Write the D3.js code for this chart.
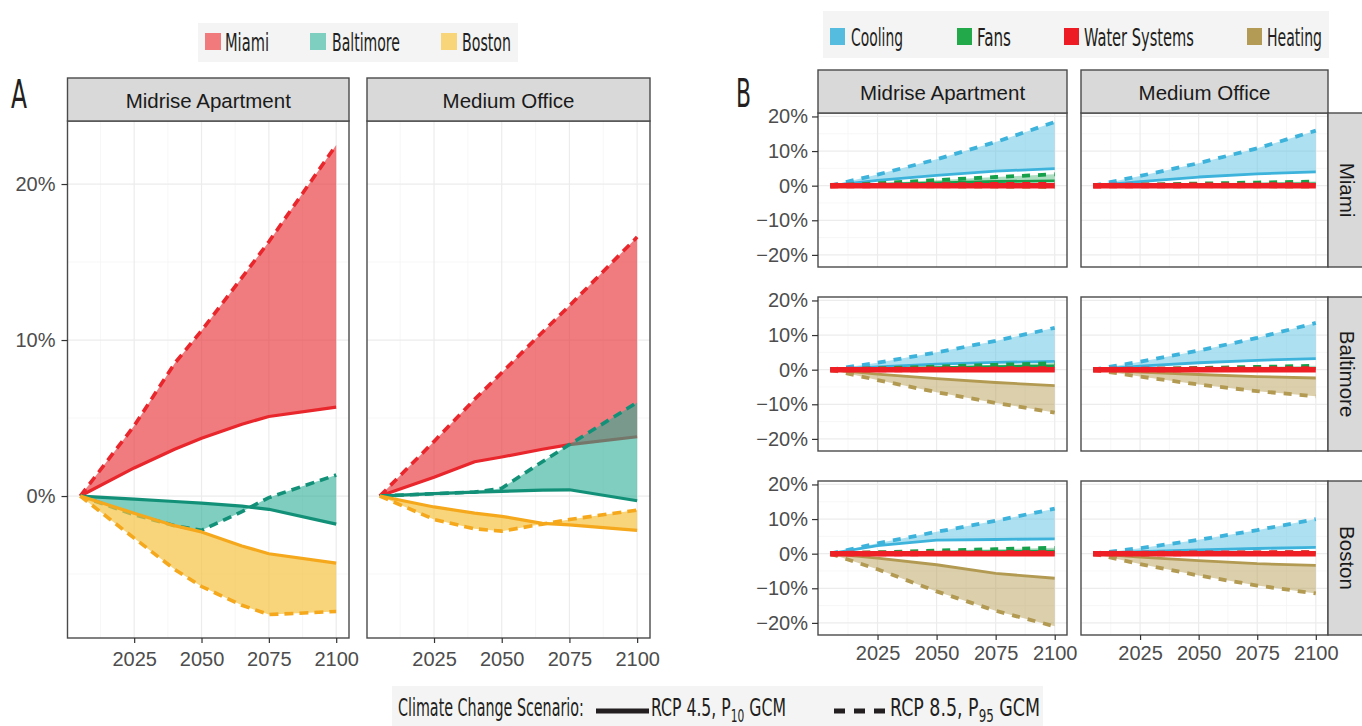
<!DOCTYPE html>
<html>
<head>
<meta charset="utf-8">
<script src="https://cdn.jsdelivr.net/npm/d3@7"></script>
<style>
  body { margin: 0; background: #fff; }
  svg { display: block; }
</style>
</head>
<body>
<svg id="chart" width="1362" height="726"></svg>
<script>
// ---------------- data ----------------
// Panel A: change in total energy use by city, per building type
const buildings = ["Midrise Apartment", "Medium Office"];
const citiesA = ["Miami", "Baltimore", "Boston"];
const yearsA = [2005, 2025, 2040, 2050, 2065, 2075, 2100];
// each array: [Midrise Apartment values, Medium Office values], in % change
const miamiRcp45 = [
  [0, 1.8, 3.0, 3.7, 4.6, 5.1, 5.7],
  [0, 1.2, 2.2, 2.5, 3.0, 3.3, 3.8]
];
const miamiRcp85 = [
  [0, 4.5, 8.5, 10.6, 14.0, 16.3, 22.5],
  [0, 3.5, 6.2, 7.9, 10.5, 12.2, 16.6]
];
const baltimoreRcp45 = [
  [0, -0.2, -0.35, -0.45, -0.65, -0.85, -1.8],
  [0, 0.15, 0.25, 0.3, 0.38, 0.4, -0.3]
];
const baltimoreRcp85 = [
  [0, -1.2, -1.9, -2.2, -1.0, -0.1, 1.35],
  [0, 0.15, 0.25, 0.5, 2.2, 3.3, 6.0]
];
const bostonRcp45 = [
  [0, -1.1, -1.9, -2.3, -3.2, -3.7, -4.3],
  [0, -0.7, -1.1, -1.3, -1.75, -1.85, -2.2]
];
const bostonRcp85 = [
  [0, -2.7, -4.7, -5.8, -7.0, -7.6, -7.4],
  [0, -1.5, -2.1, -2.25, -1.8, -1.5, -0.9]
];
const yearTicks = [2025, 2050, 2075, 2100];
const pctTicksA = [0, 10, 20];

// Panel B: change by end use; rows are
// Miami apt, Miami office, Baltimore apt, Baltimore office, Boston apt, Boston office
const cityRows = ["Miami", "Baltimore", "Boston"];
const endUses = ["Cooling", "Fans", "Water Systems", "Heating"];
const yearsB = [2005, 2025, 2050, 2075, 2100];
const cooling45 = [
  [0, 1.5, 3.0, 4.2, 4.9],
  [0, 1.2, 2.5, 3.4, 4.0],
  [0, 0.8, 1.6, 2.1, 2.4],
  [0, 1.0, 2.0, 2.7, 3.2],
  [0, 2.3, 3.9, 4.1, 4.3],
  [0, 0.6, 1.1, 1.5, 1.8]
];
const cooling85 = [
  [0, 3.2, 7.6, 12.6, 18.4],
  [0, 2.8, 6.5, 10.8, 15.9],
  [0, 2.0, 5.0, 8.3, 12.1],
  [0, 2.3, 5.5, 9.2, 13.5],
  [0, 3.0, 6.3, 9.5, 13.0],
  [0, 1.6, 4.0, 6.8, 10.0]
];
const fans45 = [
  [0, 0.4, 0.8, 1.2, 1.4],
  [0, 0.1, 0.25, 0.4, 0.5],
  [0, 0.3, 0.6, 0.9, 1.1],
  [0, 0.1, 0.2, 0.3, 0.4],
  [0, 0.2, 0.4, 0.6, 0.7],
  [0, 0.05, 0.1, 0.15, 0.2]
];
const fans85 = [
  [0, 0.7, 1.6, 2.5, 3.3],
  [0, 0.3, 0.6, 0.9, 1.2],
  [0, 0.4, 0.9, 1.4, 1.9],
  [0, 0.2, 0.5, 0.8, 1.1],
  [0, 0.4, 0.9, 1.3, 1.7],
  [0, 0.1, 0.2, 0.3, 0.4]
];
const water45 = [
  [0, 0, 0, 0, 0],
  [0, 0, 0, 0, 0],
  [0, 0, 0, 0, 0],
  [0, 0, 0, 0, 0],
  [0, 0, 0, 0, 0],
  [0, 0, 0, 0, 0]
];
const water85 = [
  [0, 0.1, 0.2, 0.25, 0.3],
  [0, 0.05, 0.1, 0.15, 0.2],
  [0, 0.05, 0.1, 0.15, 0.2],
  [0, 0.05, 0.1, 0.15, 0.2],
  [0, 0.05, 0.1, 0.15, 0.2],
  [0, 0.05, 0.1, 0.15, 0.2]
];
const heating45 = [
  [0, -0.05, -0.1, -0.15, -0.2],
  [0, -0.05, -0.1, -0.1, -0.15],
  [0, -1.3, -2.6, -3.7, -4.6],
  [0, -0.7, -1.4, -2.0, -2.4],
  [0, -1.3, -3.2, -5.7, -7.1],
  [0, -1.0, -2.0, -2.9, -3.4]
];
const heating85 = [
  [0, -0.1, -0.2, -0.3, -0.4],
  [0, -0.1, -0.15, -0.2, -0.3],
  [0, -3.0, -6.5, -9.6, -12.4],
  [0, -2.0, -4.3, -6.2, -7.7],
  [0, -4.5, -10.9, -16.5, -21.0],
  [0, -3.0, -6.3, -9.2, -11.5]
];
const pctTicksB = [-20, -10, 0, 10, 20];

// ---------------- styling ----------------
const sansFont = "'Liberation Sans', Arial, Helvetica, sans-serif";
const narrowFont = "'Liberation Sans Narrow', 'DejaVu Sans Condensed', 'Liberation Sans', sans-serif";
const cityStyle = {
  Miami:     { line: "#e8262b", fill: "#e8363b", fillOpacity: 0.65, swatch: "#f17b7c" },
  Baltimore: { line: "#139178", fill: "#2aae96", fillOpacity: 0.6,  swatch: "#7fcfc0" },
  Boston:    { line: "#f5a81c", fill: "#f5c242", fillOpacity: 0.7,  swatch: "#f9d57a" }
};
const useStyle = {
  "Cooling":       { line: "#3db3dc", fill: "#5cc3e4", fillOpacity: 0.5,  swatch: "#56bcdf" },
  "Fans":          { line: "#17a04c", fill: "#17a04c", fillOpacity: 0.35, swatch: "#22aa4a" },
  "Water Systems": { line: "#ee2025", fill: "#ee2025", fillOpacity: 0.4,  swatch: "#ed1c24" },
  "Heating":       { line: "#b39a52", fill: "#b39a52", fillOpacity: 0.48, swatch: "#b39b56" }
};
const pctFmt = v => (v < 0 ? "\u2212" + Math.abs(v) : v) + "%";

const svg = d3.select("#chart");

// text squeezed horizontally to a given width (condensed labels)
function fitText(parent, build, x, y, width, size) {
  const g = parent.append("g");
  const t = g.append("text")
    .style("font-family", narrowFont)
    .style("font-size", size + "px")
    .attr("fill", "#231f20");
  build(t);
  const w = t.node().getBBox().width;
  g.attr("transform", `translate(${x},${y}) scale(${width / w},1)`);
  return g;
}
const plain = str => t => t.text(str);

function drawGrid(g, x, y, xMinor, yMinor) {
  const [x0, x1] = x.range(), [y1, y0] = y.range();
  g.append("g").selectAll("line").data(yMinor).join("line")
    .attr("x1", x0).attr("x2", x1).attr("y1", d => y(d)).attr("y2", d => y(d))
    .attr("stroke", "#f5f5f5").attr("stroke-width", 0.8);
  g.append("g").selectAll("line").data(xMinor).join("line")
    .attr("y1", y0).attr("y2", y1).attr("x1", d => x(d)).attr("x2", d => x(d))
    .attr("stroke", "#f5f5f5").attr("stroke-width", 0.8);
  g.append("g").selectAll("line").data(y.ticksUsed).join("line")
    .attr("x1", x0).attr("x2", x1).attr("y1", d => y(d)).attr("y2", d => y(d))
    .attr("stroke", "#ececec").attr("stroke-width", 1.2);
  g.append("g").selectAll("line").data(yearTicks).join("line")
    .attr("y1", y0).attr("y2", y1).attr("x1", d => x(d)).attr("x2", d => x(d))
    .attr("stroke", "#ececec").attr("stroke-width", 1.2);
}

function strip(g, x0, y0, w, h, label, vertical) {
  g.append("rect").attr("x", x0).attr("y", y0).attr("width", w).attr("height", h)
    .attr("fill", "#d9d9d9").attr("stroke", "#4a4a4a").attr("stroke-width", 1.4);
  const t = g.append("text")
    .style("font-family", sansFont).style("font-size", "20.5px")
    .attr("fill", "#1a1a1a").attr("text-anchor", "middle").attr("dominant-baseline", "central")
    .text(label);
  if (vertical) t.attr("transform", `translate(${x0 + 19},${y0 + h / 2}) rotate(90)`);
  else t.attr("x", x0 + w / 2).attr("y", y0 + h / 2 + 1);
}

function band(g, x, y, years, low, high, st, lw, dash, dashW) {
  const pts = years.map((yr, i) => ({ yr, lo: low[i], hi: high[i] }));
  g.append("path").datum(pts)
    .attr("d", d3.area().x(d => x(d.yr)).y0(d => y(d.lo)).y1(d => y(d.hi)))
    .attr("fill", st.fill).attr("fill-opacity", st.fillOpacity);
  g.append("path").datum(pts)
    .attr("d", d3.line().x(d => x(d.yr)).y(d => y(d.hi)))
    .attr("fill", "none").attr("stroke", st.line).attr("stroke-width", dashW)
    .attr("stroke-dasharray", dash);
  g.append("path").datum(pts)
    .attr("d", d3.line().x(d => x(d.yr)).y(d => y(d.lo)))
    .attr("fill", "none").attr("stroke", st.line).attr("stroke-width", lw)
    .attr("stroke-linejoin", "round");
}

// ================= Panel A =================
const gA = svg.append("g");
const aCols = [[67.5, 349], [367, 650]];
const aTop = 121, aBottom = 638;
const yA = d3.scaleLinear().domain([-9.1, 24.04]).range([aBottom, aTop]);
yA.ticksUsed = pctTicksA;
const seriesA = {
  Miami: [miamiRcp45, miamiRcp85],
  Baltimore: [baltimoreRcp45, baltimoreRcp85],
  Boston: [bostonRcp45, bostonRcp85]
};

aCols.forEach(([cx0, cx1], b) => {
  const x = d3.scaleLinear().domain([2005 - 4.75, 2100 + 4.75]).range([cx0, cx1]);
  const g = gA.append("g");
  g.append("rect").attr("x", cx0).attr("y", aTop).attr("width", cx1 - cx0).attr("height", aBottom - aTop).attr("fill", "#fff");
  drawGrid(g, x, yA, [2012.5, 2037.5, 2062.5, 2087.5], [-5, 5, 15]);
  citiesA.forEach(c => {
    band(g, x, yA, yearsA, seriesA[c][0][b], seriesA[c][1][b], cityStyle[c], 3.2, "9,6", 3.6);
  });
  g.append("rect").attr("x", cx0).attr("y", aTop).attr("width", cx1 - cx0).attr("height", aBottom - aTop)
    .attr("fill", "none").attr("stroke", "#4a4a4a").attr("stroke-width", 1.4);
  strip(g, cx0, 78, cx1 - cx0, aTop - 78, buildings[b], false);

  // x axis
  const ax = g.append("g").attr("transform", `translate(0,${aBottom})`)
    .call(d3.axisBottom(x).tickValues(yearTicks).tickFormat(d3.format("d")).tickSize(5).tickPadding(9));
  ax.select(".domain").remove();
  ax.selectAll("line").attr("stroke", "#333").attr("stroke-width", 1.2);
  ax.selectAll("text").style("font-family", sansFont).style("font-size", "20px").attr("fill", "#4d4d4d");

  if (b === 0) {
    const ay = g.append("g").attr("transform", `translate(${cx0},0)`)
      .call(d3.axisLeft(yA).tickValues(pctTicksA).tickFormat(pctFmt).tickSize(6).tickPadding(6));
    ay.select(".domain").remove();
    ay.selectAll("line").attr("stroke", "#333").attr("stroke-width", 1.2);
    ay.selectAll("text").style("font-family", sansFont).style("font-size", "20px").attr("fill", "#4d4d4d");
  }
});

// legend A
gA.append("rect").attr("x", 198).attr("y", 23).attr("width", 320).attr("height", 39).attr("fill", "#f4f4f4");
const legA = [
  { c: "Miami", sx: 205, tx: 225, tw: 44 },
  { c: "Baltimore", sx: 310, tx: 332, tw: 68 },
  { c: "Boston", sx: 441, tx: 462, tw: 49 }
];
legA.forEach(d => {
  gA.append("rect").attr("x", d.sx).attr("y", 33).attr("width", 16).attr("height", 17).attr("fill", cityStyle[d.c].swatch);
  fitText(gA, plain(d.c), d.tx, 50.5, d.tw, 25);
});
fitText(gA, plain("A"), 11, 108, 16, 39);

// ================= Panel B =================
const gB = svg.append("g");
const bCols = [[818, 1067], [1081, 1328]];
const bRows = [[113, 267], [297, 451], [481, 635]];
const useSeries = {
  "Cooling": [cooling45, cooling85],
  "Fans": [fans45, fans85],
  "Water Systems": [water45, water85],
  "Heating": [heating45, heating85]
};
const drawOrder = ["Heating", "Cooling", "Fans", "Water Systems"];

bRows.forEach(([ry0, ry1], r) => {
  const y = d3.scaleLinear().domain([-23.5, 21]).range([ry1, ry0]);
  y.ticksUsed = pctTicksB;
  bCols.forEach(([cx0, cx1], b) => {
    const x = d3.scaleLinear().domain([2005 - 5.2, 2100 + 5.2]).range([cx0, cx1]);
    const idx = r * 2 + b;
    const g = gB.append("g");
    g.append("rect").attr("x", cx0).attr("y", ry0).attr("width", cx1 - cx0).attr("height", ry1 - ry0).attr("fill", "#fff");
    drawGrid(g, x, y, [2012.5, 2037.5, 2062.5, 2087.5], [-15, -5, 5, 15]);
    drawOrder.forEach(u => {
      const st = useStyle[u];
      const w = u === "Water Systems" ? 5.5 : 2.8;
      const dw = u === "Water Systems" ? 5.5 : 3.8;
      band(g, x, y, yearsB, useSeries[u][0][idx], useSeries[u][1][idx], st, w, "8,8", dw);
    });
    g.append("rect").attr("x", cx0).attr("y", ry0).attr("width", cx1 - cx0).attr("height", ry1 - ry0)
      .attr("fill", "none").attr("stroke", "#4a4a4a").attr("stroke-width", 1.4);

    if (r === 0) strip(g, cx0, 70, cx1 - cx0, ry0 - 70, buildings[b], false);
    if (b === 1) strip(g, cx1, ry0, 42, ry1 - ry0, cityRows[r], true);

    if (b === 0) {
      const ay = g.append("g").attr("transform", `translate(${cx0},0)`)
        .call(d3.axisLeft(y).tickValues(pctTicksB).tickFormat(pctFmt).tickSize(6).tickPadding(4));
      ay.select(".domain").remove();
      ay.selectAll("line").attr("stroke", "#333").attr("stroke-width", 1.2);
      ay.selectAll("text").style("font-family", sansFont).style("font-size", "20px").attr("fill", "#4d4d4d");
    }
    if (r === 2) {
      const ax = g.append("g").attr("transform", `translate(0,${ry1})`)
        .call(d3.axisBottom(x).tickValues(yearTicks).tickFormat(d3.format("d")).tickSize(5).tickPadding(6));
      ax.select(".domain").remove();
      ax.selectAll("line").attr("stroke", "#333").attr("stroke-width", 1.2);
      ax.selectAll("text").style("font-family", sansFont).style("font-size", "20px").attr("fill", "#4d4d4d");
    }
  });
});

// legend B
gB.append("rect").attr("x", 823).attr("y", 11).attr("width", 506).attr("height", 47).attr("fill", "#f4f4f4");
const legB = [
  { u: "Cooling", sx: 830, tx: 851, tw: 52 },
  { u: "Fans", sx: 957, tx: 977, tw: 34 },
  { u: "Water Systems", sx: 1064, tx: 1084, tw: 110 },
  { u: "Heating", sx: 1247, tx: 1267, tw: 55 }
];
legB.forEach(d => {
  gB.append("rect").attr("x", d.sx).attr("y", 28).attr("width", 15).attr("height", 17).attr("fill", useStyle[d.u].swatch);
  fitText(gB, plain(d.u), d.tx, 45.5, d.tw, 25);
});
fitText(gB, plain("B"), 736, 107, 15, 39);

// ================= scenario legend =================
const gL = svg.append("g");
gL.append("rect").attr("x", 392).attr("y", 686).attr("width", 651).attr("height", 40).attr("fill", "#f4f4f4");
fitText(gL, plain("Climate Change Scenario:"), 398, 716, 186, 25);
gL.append("line").attr("x1", 596).attr("x2", 649).attr("y1", 711).attr("y2", 711)
  .attr("stroke", "#231f20").attr("stroke-width", 5);
gL.append("line").attr("x1", 834).attr("x2", 887).attr("y1", 711).attr("y2", 711)
  .attr("stroke", "#231f20").attr("stroke-width", 5).attr("stroke-dasharray", "11,9");
const scenarioLabels = [
  { pre: "RCP 4.5, P", sub: "10", post: " GCM", x: 651, w: 135 },
  { pre: "RCP 8.5, P", sub: "95", post: " GCM", x: 890, w: 150 }
];
scenarioLabels.forEach(s => {
  fitText(gL, t => {
    t.append("tspan").text(s.pre);
    t.append("tspan").attr("dy", 6).style("font-size", "17px").text(s.sub);
    t.append("tspan").attr("dy", -6).text(s.post);
  }, s.x, 716, s.w, 25);
});
</script>
</body>
</html>
